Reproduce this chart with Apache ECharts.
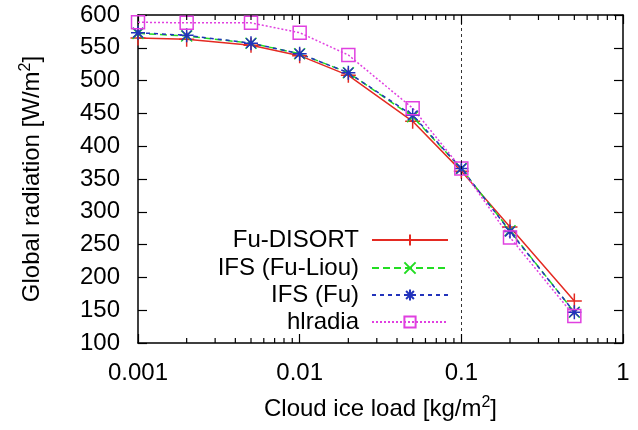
<!DOCTYPE html>
<html><head><meta charset="utf-8">
<script src="https://cdn.jsdelivr.net/npm/echarts@6/dist/echarts.min.js"></script>
<style>html,body{margin:0;padding:0;background:#fff}#c{width:638px;height:430px}</style>
</head><body><div id="c"></div>
<script>
const xValues = [0.001, 0.002, 0.005, 0.01, 0.02, 0.05, 0.1, 0.2, 0.5];
const fuDisort = [565, 563, 554, 538, 508, 438, 362, 277, 164];
const ifsFuLiou = [572, 568, 557, 541, 512, 445, 366, 271, 147];
const ifsFu = [573, 569, 557, 541, 512, 447, 366, 270, 147];
const hlradia = [589, 588, 588, 573, 539, 458, 366, 261, 141];
const seriesNames = ['Fu-DISORT', 'IFS (Fu-Liou)', 'IFS (Fu)', 'hlradia'];
const xTickLabels = ['0.001', '0.01', '0.1', '1'];
const minorTicks = [0.002,0.003,0.004,0.005,0.006,0.007,0.008,0.009,
                    0.02,0.03,0.04,0.05,0.06,0.07,0.08,0.09,
                    0.2,0.3,0.4,0.5,0.6,0.7,0.8,0.9];
const refLineX = 0.1;

const FONT = 'Liberation Sans, Arial, Helvetica, sans-serif';
const Y_MIN = 100, Y_MAX = 600;

function pairs(vals){ return xValues.map((x,i)=>[x, vals[i]]); }

const SYM_PLUS = 'path://M5,0L5,10M0,5L10,5';
const SYM_X = 'path://M0,0L10,10M0,10L10,0';
const SYM_STAR = 'path://M5,0L5,10M0,5L10,5M1.5,1.5L8.5,8.5M1.5,8.5L8.5,1.5';
const SYM_SQ = 'path://M0,0L10,0L10,10L0,10Z';

function lineSeries(name, vals, color, type, symbol, size){
  return {
    name, type:'line', data: pairs(vals), symbol, symbolSize: size,
    showAllSymbol: true,
    lineStyle: {color, width: 1.5, type},
    itemStyle: {color: 'rgba(0,0,0,0)', borderColor: color, borderWidth: 1.5},
    emphasis: {disabled: true}, animation: false, z: 3
  };
}

const colors = ['#e42a22', '#22dd22', '#2233bb', '#e040e0'];
const series = [
  lineSeries(seriesNames[0], fuDisort, colors[0], 'solid', SYM_PLUS, 15),
  lineSeries(seriesNames[1], ifsFuLiou, colors[1], [7,4], SYM_X, 11),
  lineSeries(seriesNames[2], ifsFu, colors[2], [4,4], SYM_STAR, 14),
  lineSeries(seriesNames[3], hlradia, colors[3], [2,2], SYM_SQ, 13)
];
series[0].markLine = {
  silent: true, symbol: ['none','none'], label: {show:false},
  lineStyle: {color:'#000', type:[3,3], width:0.8},
  data: [{xAxis: refLineX}], animation: false
};
series.push({
  type: 'custom', silent: true, animation: false, z: 4,
  data: minorTicks.map(v=>[v, Y_MIN]),
  renderItem: function(params, api){
    const v = api.value(0);
    const b = api.coord([v, Y_MIN]);
    const t = api.coord([v, Y_MAX]);
    const st = {stroke:'#000', lineWidth:1.2};
    return {type:'group', children:[
      {type:'line', shape:{x1:b[0], y1:b[1], x2:b[0], y2:b[1]-5}, style:st},
      {type:'line', shape:{x1:t[0], y1:t[1], x2:t[0], y2:t[1]+5}, style:st}
    ]};
  }
});

const legendTops = [228, 256, 283, 310];
const legends = seriesNames.map((n,i)=>({
  data:[n], right: 189, top: legendTops[i], align:'right', orient:'vertical',
  itemWidth: 76, itemHeight: 14, selectedMode:false, padding:0,
  textStyle:{fontFamily:FONT, fontSize:24, color:'#000', padding:[0,8,0,0]}
}));

const axisLineStyle = {color:'#000', width:1.5};
const option = {
  animation: false,
  backgroundColor: '#fff',
  grid: {left:138, right:15, top:15, bottom:87, containLabel:false},
  legend: legends,
  xAxis: [{
    type:'log', logBase:10, min:0.001, max:1, position:'bottom',
    axisLine:{show:true, lineStyle:axisLineStyle},
    axisTick:{show:true, inside:true, length:9, lineStyle:{color:'#000', width:1.2}},
    splitLine:{show:false}, minorTick:{show:false},
    axisLabel:{fontFamily:FONT, fontSize:24, color:'#000', margin:18,
      formatter: v => xTickLabels[Math.round(Math.log10(v)) + 3]},
    name:'{a|Cloud ice load [kg/m}{s|2}{a|]}', nameLocation:'middle', nameGap:52,
    nameTextStyle:{rich:{a:{fontFamily:FONT, fontSize:24, color:'#000'},
      s:{fontFamily:FONT, fontSize:16, color:'#000', verticalAlign:'top', padding:[0,0,12,0]}}}
  },{
    type:'log', logBase:10, min:0.001, max:1, position:'top',
    axisLine:{show:true, lineStyle:axisLineStyle},
    axisTick:{show:true, inside:true, length:9, lineStyle:{color:'#000', width:1.2}},
    axisLabel:{show:false}, splitLine:{show:false}
  }],
  yAxis: [{
    type:'value', min:Y_MIN, max:Y_MAX, interval:50, position:'left',
    axisLine:{show:true, lineStyle:axisLineStyle},
    axisTick:{show:true, inside:true, length:9, lineStyle:{color:'#000', width:1.2}},
    splitLine:{show:false},
    axisLabel:{fontFamily:FONT, fontSize:24, color:'#000', margin:18},
    name:'{a|Global radiation [W/m}{s|2}{a|]}', nameLocation:'middle', nameGap:92, nameRotate:90,
    nameTextStyle:{rich:{a:{fontFamily:FONT, fontSize:24, color:'#000'},
      s:{fontFamily:FONT, fontSize:16, color:'#000', verticalAlign:'top', padding:[0,0,12,0]}}}
  },{
    type:'value', min:Y_MIN, max:Y_MAX, interval:50, position:'right',
    axisLine:{show:true, lineStyle:axisLineStyle},
    axisTick:{show:true, inside:true, length:9, lineStyle:{color:'#000', width:1.2}},
    axisLabel:{show:false}, splitLine:{show:false}
  }],
  series
};
const chart = echarts.init(document.getElementById('c'), null, {renderer:'canvas'});
chart.setOption(option);
</script></body></html>
